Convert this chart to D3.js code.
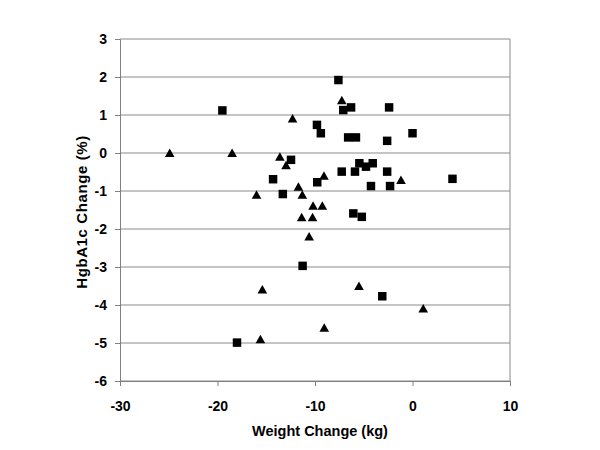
<!DOCTYPE html>
<html>
<head>
<meta charset="utf-8">
<script src="https://cdn.jsdelivr.net/npm/d3@7"></script>
<style>
  body { margin: 0; background: #fff; }
  text { font-family: "Liberation Sans", Arial, sans-serif; font-weight: bold; fill: #000; }
  .axis text { font-size: 14px; }
</style>
</head>
<body>
<script>
// weight change (kg), HgbA1c change (%)
const squareX = [-19.5, -7.6, -7.1, -6.3, -2.4, -9.8, -9.4, -6.6, -5.8, -2.6, 0.0, -12.46, -14.3, -13.3,
  -5.45, -4.77, -4.08, -7.26, -5.9, -2.6, -9.77, 4.1, -4.26, -2.3, -6.07, -5.2, -11.27, -3.1, -18.0]
const squareY = [1.12, 1.92, 1.13, 1.2, 1.2, 0.74, 0.52, 0.41, 0.41, 0.32, 0.52, -0.18, -0.69, -1.08,
  -0.27, -0.36, -0.27, -0.49, -0.49, -0.49, -0.77, -0.68, -0.87, -0.87, -1.59, -1.68, -2.97, -3.77, -4.99]

const triX = [-7.25, -12.3, -24.9, -18.5, -13.6, -12.97, -9.08, -1.18, -11.7, -16.0, -11.3, -10.2, -9.25,
  -11.37, -10.25, -10.6, -5.49, 1.1, -9.05, -15.4, -15.6]
const triY = [1.39, 0.91, 0, 0, -0.1, -0.32, -0.6, -0.71, -0.89, -1.1, -1.1, -1.39, -1.39,
  -1.69, -1.69, -2.2, -3.5, -4.09, -4.6, -3.59, -4.9]

const xTicks = [-30, -20, -10, 0, 10]
const yTicks = [3, 2, 1, 0, -1, -2, -3, -4, -5, -6]

const width = 600, height = 450
const margin = {top: 39, right: 90, bottom: 69, left: 120}

const svg = d3.select("body").append("svg")
  .attr("width", width)
  .attr("height", height)

const xScale = d3.scaleLinear().domain([-30, 10]).range([margin.left, width - margin.right])
const yScale = d3.scaleLinear().domain([-6, 3]).range([height - margin.bottom, margin.top])

// gridlines
svg.append("g")
  .selectAll("line")
  .data(yTicks)
  .enter().append("line")
  .attr("x1", xScale(-30))
  .attr("x2", xScale(10))
  .attr("y1", d => yScale(d))
  .attr("y2", d => yScale(d))
  .attr("stroke", "#8a8a8a")
  .attr("stroke-width", 1)

// right border
svg.append("line")
  .attr("x1", xScale(10)).attr("x2", xScale(10))
  .attr("y1", yScale(3)).attr("y2", yScale(-6))
  .attr("stroke", "#8a8a8a")

const fmt = d => String(d) // plain hyphen like the original

const xAxis = svg.append("g")
  .attr("class", "x axis")
  .attr("transform", "translate(0," + yScale(-6) + ")")
  .call(d3.axisBottom(xScale).tickValues(xTicks).tickFormat(fmt).tickSize(5).tickPadding(15))

const yAxis = svg.append("g")
  .attr("class", "y axis")
  .attr("transform", "translate(" + xScale(-30) + ",0)")
  .call(d3.axisLeft(yScale).tickValues(yTicks).tickFormat(fmt).tickSize(5).tickPadding(8))

svg.selectAll(".axis path, .axis line").attr("stroke", "#808080")
svg.selectAll(".axis text")
  .style("font-size", "14px")
  .style("font-weight", "bold")
  .attr("fill", "#000")

// markers
const squares = squareX.map((x, i) => ({x: x, y: squareY[i]}))
const tris = triX.map((x, i) => ({x: x, y: triY[i]}))

svg.append("g")
  .selectAll("path")
  .data(squares)
  .enter().append("path")
  .attr("d", d3.symbol().type(d3.symbolSquare).size(72))
  .attr("transform", d => "translate(" + xScale(d.x) + "," + yScale(d.y) + ")")
  .attr("fill", "#000")

svg.append("g")
  .selectAll("path")
  .data(tris)
  .enter().append("path")
  .attr("d", "M0,-4.5L4.8,4L-4.8,4Z")
  .attr("transform", d => "translate(" + xScale(d.x) + "," + yScale(d.y) + ")")
  .attr("fill", "#000")

// axis titles
svg.append("text")
  .text("Weight Change (kg)")
  .attr("x", 320)
  .attr("y", 436)
  .attr("text-anchor", "middle")
  .style("font-size", "14.5px")

svg.append("text")
  .text("HgbA1c Change (%)")
  .attr("transform", "translate(87,212) rotate(-90)")
  .attr("text-anchor", "middle")
  .style("font-size", "15px")
  .style("letter-spacing", "0.6px")
</script>
</body>
</html>
